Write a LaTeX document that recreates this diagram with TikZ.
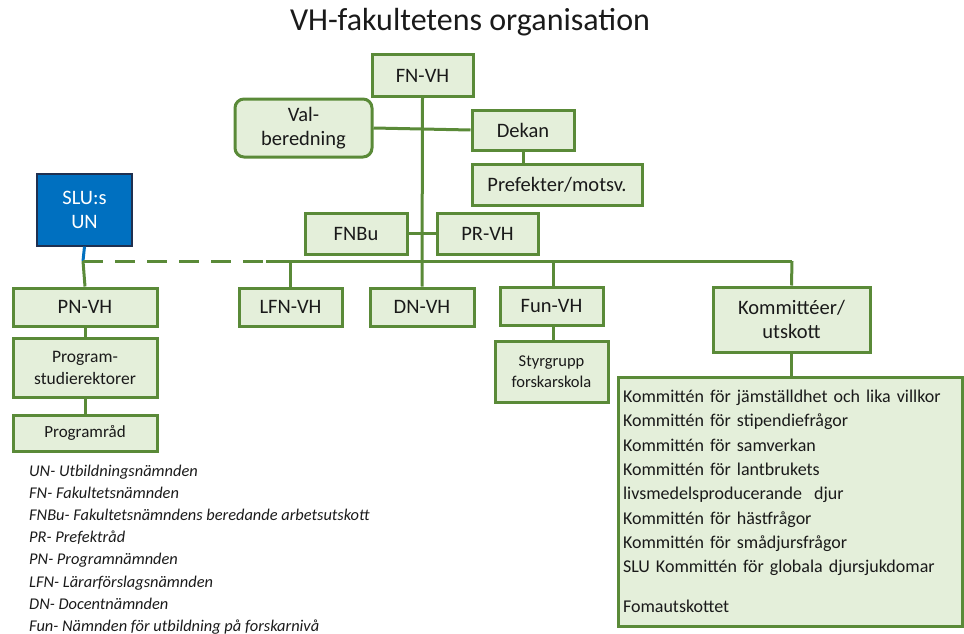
\documentclass[tikz,border=0pt]{standalone}
\usepackage{fontspec}
\setmainfont{Carlito}
\definecolor{gborder}{HTML}{5A8A38}
\definecolor{gfill}{HTML}{E4EFDA}
\definecolor{ublue}{HTML}{0070C0}
\definecolor{ublueb}{HTML}{1F3050}
\definecolor{txt}{HTML}{1A1A1A}
\tikzset{
  gbox/.style={draw=gborder, fill=gfill, line width=3pt, inner sep=0pt, align=center, text=txt},
  big/.style={font=\fontsize{20.5}{23.5}\selectfont},
  mid/.style={font=\fontsize{17}{21}\selectfont},
  conn/.style={draw=gborder, line width=3pt},
}
\begin{document}
\begin{tikzpicture}[x=1pt,y=-1pt]
\useasboundingbox (0,0) rectangle (964,634);
\node[font=\fontsize{32}{35}\selectfont, text=txt] (title) at (470,22) {VH-fakultetens organisation};

\node[gbox,big,minimum width=101,minimum height=41] (fn) at (422.5,75.5) {FN-VH};
\node[gbox,big,rounded corners=9pt,minimum width=137,minimum height=58] (val) at (303.5,128) {Val-\\beredning};
\node[gbox,big,minimum width=102,minimum height=40] (dekan) at (523,130) {Dekan};
\node[gbox,big,minimum width=170,minimum height=41] (pref) at (557,184.5) {Prefekter/motsv.};
\node[gbox,big,minimum width=102,minimum height=41] (fnbu) at (356,233.5) {FNBu};
\node[gbox,big,minimum width=101,minimum height=41] (prvh) at (487.5,233.5) {PR-VH};
\node[draw=ublueb, fill=ublue, line width=1.2pt, text=white, big, align=center, minimum width=95, minimum height=72, inner sep=0pt] (slu) at (84.5,210) {SLU:s\\UN};
\node[gbox,big,minimum width=144,minimum height=38] (pn) at (85,307) {PN-VH};
\node[gbox,mid,font=\fontsize{17.5}{22}\selectfont,minimum width=144,minimum height=59] (prog) at (85,367.5) {Program-\\studierektorer};
\node[gbox,mid,minimum width=144,minimum height=36] (prad) at (85,433) {Programråd};
\node[gbox,big,minimum width=103,minimum height=38] (lfn) at (290.5,307) {LFN-VH};
\node[gbox,big,minimum width=104,minimum height=38] (dn) at (422,307) {DN-VH};
\node[gbox,big,minimum width=103,minimum height=38] (fun) at (551.5,306) {Fun-VH};
\node[gbox,font=\fontsize{16.5}{21}\selectfont,minimum width=113,minimum height=61] (styr) at (551.5,371.5) {Styrgrupp\\forskarskola};
\node[gbox,big,minimum width=157,minimum height=65] (komm) at (791.5,319.5) {Kommittéer/\\utskott};
\node[gbox,font=\fontsize{18}{24.3}\selectfont,align=left,text width=334,inner xsep=5pt,minimum height=249] (list) at (790,501.5)
{\raggedright Kommittén för jämställdhet och lika villkor\\
Kommittén för stipendiefrågor\\
Kommittén för samverkan\\
Kommittén för lantbrukets\\
livsmedelsproducerande\ \ djur\\
Kommittén för hästfrågor\\
Kommittén för smådjursfrågor\\
SLU Kommittén för globala djursjukdomar\\[15.7pt]
Fomautskottet};

\node[anchor=north west, inner sep=0pt, align=left, text=txt, font=\fontsize{16.4}{22.1}\selectfont\itshape] (legend) at (29,465)
{UN- Utbildningsnämnden\\
FN- Fakultetsnämnden\\
FNBu- Fakultetsnämndens beredande arbetsutskott\\
PR- Prefektråd\\
PN- Programnämnden\\
LFN- Lärarförslagsnämnden\\
DN- Docentnämnden\\
Fun- Nämnden för utbildning på forskarnivå};

% bus coordinates
\coordinate (bl) at (83,261);
\coordinate (bd) at (266,261);
\coordinate (br) at (792,261);
\coordinate (blfn) at (290.5,261);
\coordinate (bfun) at (553,261);

% connectors
\draw[conn] (val.east) -- (dekan.west);
\draw[conn] (fnbu.east) -- (prvh.west);
\draw[conn] (fn.south) -- (dn.north);
\draw[conn] (dekan.south) -- (dekan.south |- pref.north);
\draw[draw=ublue, line width=3pt] (slu.south) -- (bl);
\draw[conn, dash pattern=on 20pt off 12pt] (bl) -- (bd);
\draw[conn] (bd) -- (br);
\draw[conn] (bl) -- (pn.north);
\draw[conn] (pn.south) -- (prog.north);
\draw[conn] (prog.south) -- (prad.north);
\draw[conn] (blfn) -- (lfn.north);
\draw[conn] (bfun) -- (bfun |- fun.north);
\draw[conn] (bfun |- fun.south) -- (bfun |- styr.north);
\draw[conn] (br) -- (komm.north);
\draw[conn] (komm.south) -- (komm.south |- list.north);
\end{tikzpicture}
\end{document}
